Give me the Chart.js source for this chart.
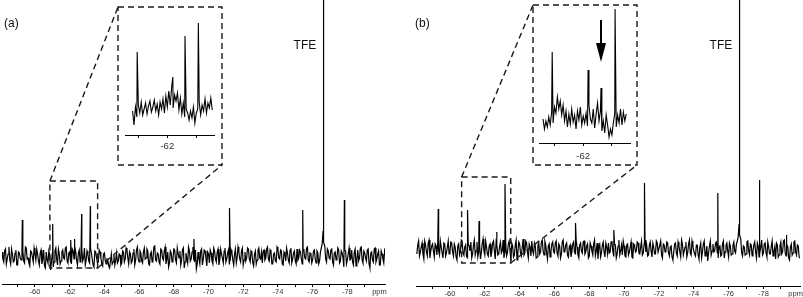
<!DOCTYPE html>
<html><head><meta charset="utf-8">
<script src="https://cdn.jsdelivr.net/npm/chart.js@4.4.1/dist/chart.umd.min.js"></script>
<style>
html,body{margin:0;padding:0;background:#fff;}
body{width:803px;height:297px;position:relative;overflow:hidden;}
canvas{position:absolute;}
</style></head><body>
<canvas id="mainA" width="400" height="297" style="left:0;top:0"></canvas>
<canvas id="mainB" width="403" height="297" style="left:400px;top:0"></canvas>
<canvas id="insetA" width="100" height="155" style="left:120px;top:8px"></canvas>
<canvas id="insetB" width="100" height="156" style="left:535px;top:7px"></canvas>
<script>
// ---------- DATA ----------
const mainTickValues = [-59,-60,-61,-62,-63,-64,-65,-66,-67,-68,-69,-70,-71,-72,-73,-74,-75,-76,-77,-78,-79];
const mainTickLabels = ['','-60','','-62','','-64','','-66','','-68','','-70','','-72','','-74','','-76','','-78',''];
const insetTickValues = [-61,-62,-63];
const insetTickLabels = ['','-62',''];

// panel (a) spectrum: samples every 0.1 ppm from -58.1, plus the in-between samples
const noiseA_start = -58.1, noiseA_step = -0.1;
const noiseA = [
 4,-6,7,-3,9,-8,2,-5,6,-9,
 3,-4,5,-7,8,-2,-10,4,-6,2,
 7,-5,3,-8,6,-12,-4,5,-14,3,
 -6,8,-9,2,-5,6,-3,9,-7,4,
 -8,5,10,-4,3,-6,7,-2,-9,5,
 -5,8,-3,-11,4,-7,6,-2,-10,3,
 -8,-4,-12,2,-6,-9,3,-5,1,-7,
 4,-3,6,-8,2,-5,7,-4,9,-6,
 3,-7,8,-2,5,-9,4,-3,10,-5,
 2,-8,6,-4,9,-3,-11,5,-6,7,
 -4,8,-2,-9,6,-12,3,-7,5,-3,
 9,-6,-13,4,-8,7,-3,5,-10,2,
 6,-5,8,-3,4,-9,7,-2,5,-6,
 3,-8,6,-4,2,-7,9,-3,5,-9,
 4,-2,7,-6,3,-10,5,-4,8,-3,
 -7,6,-2,9,-5,4,-8,3,-6,7,
 -3,5,-9,2,8,-4,6,-7,3,-5,
 7,-2,4,-8,5,-3,9,-6,2,-4,
 6,-7,3,-5,8,25,10,-6,5,-3,
 7,-9,4,-2,6,-5,3,-11,5,-4,
 8,-3,-6,4,-10,6,-2,9,-7,3,
 -5,7,-12,4,-6,8,-3,5,-9,2,-7,4];
const noiseA_mid = [
 -3,5,-8,2,-4,7,-6,3,-9,4,
 -2,6,-5,9,-3,-7,5,-1,8,-4,
 2,-9,6,-3,-10,4,-7,1,-6,-11,
 5,-3,7,-8,4,-2,8,-5,3,-6,
 7,-3,4,-9,6,-1,-5,8,-4,2,
 -7,3,-9,5,-2,-6,4,-8,2,-5,
 -3,-10,-5,-8,1,-4,-7,2,-9,5,
 -6,8,-2,4,-7,3,-9,6,-3,5,
 -5,4,-3,7,-8,2,-6,9,-4,3,
 -6,7,-2,5,-8,4,-7,3,-4,6,
 -7,2,5,-4,8,-6,-2,9,-5,4,
 -4,6,-8,-3,5,-9,6,-2,4,-7,
 3,-8,5,-6,7,-4,2,-7,8,-3,
 6,-5,3,-9,7,-2,4,-6,8,-4,
 -5,8,-3,5,-7,2,-8,6,-2,4,
 5,-4,7,-3,6,-8,2,-5,9,-2,
 6,-8,4,-5,3,-7,8,-3,5,-8,
 -4,6,-3,7,-2,8,-4,3,-7,5,
 -3,5,-8,4,12,14,-3,7,-2,6,
 -6,3,-4,8,-7,5,-2,6,-8,2,
 -4,6,-9,7,-3,-5,8,-4,5,-2,
 6,-8,3,-4,7,-6,2,-9,5,-3,6];
const peaksA_ppm = [-59.27,-61.02,-62.06,-62.27,-62.69,-63.19,-69.16,-71.21,-75.43,-76.61,-77.83];
const peaksA_int = [36,32,16,17,42,50,17,48,46,1000,56];

// panel (b) spectrum
const noiseB_start = -58.1, noiseB_step = -0.1;
const noiseB = [
 -5,8,-3,6,-10,4,-7,9,-2,5,
 -8,3,7,-6,2,-9,5,-4,8,-3,
 6,-7,2,-11,5,-3,8,-6,4,-9,
 3,7,-5,9,-2,-8,6,-4,10,-6,
 2,-7,5,-3,8,-10,4,-5,7,-2,
 -9,6,-4,8,-12,3,-6,9,-3,5,
 -7,10,-4,6,-9,2,8,-5,3,-8,
 6,-3,9,-6,4,-10,5,-2,7,-4,
 8,-7,3,-5,9,-2,6,-8,4,-3,
 7,-5,2,-9,6,-4,8,-3,5,-7,
 3,-6,9,-2,-10,5,-4,7,-8,2,
 6,-3,8,-7,4,-5,9,-2,-6,3,
 -8,5,-3,7,-9,4,-2,6,-5,8,
 -4,9,3,-6,7,-8,2,-5,6,-3,
 8,-9,4,-2,6,-7,3,-11,5,-4,
 7,-3,9,-6,2,-8,5,-4,8,-2,
 -7,4,-10,6,-3,8,-5,-12,3,-6,
 5,-2,7,-9,4,-6,8,-3,6,-8,
 3,-5,7,-4,8,25,10,-7,2,-5,
 8,-6,4,-2,7,-9,3,-5,9,-4,
 6,-8,2,-5,8,-3,-10,4,-6,7,
 -3,9,-7,2,-11,5,-4,8,-6,3,-9,5];
const noiseB_mid = [
 4,-7,2,-5,8,-3,6,-9,3,-2,
 5,-6,-2,8,-4,6,-7,2,-5,7,
 -3,5,-8,3,-6,9,-4,2,-7,5,
 -2,-9,4,-6,7,-3,-10,5,-2,8,
 -5,3,-8,6,-2,7,-6,3,-4,9,
 -3,-7,5,-2,6,-8,4,-11,7,-4,
 2,-6,8,-3,5,-7,-2,6,-9,4,
 -5,7,-2,8,-4,3,-8,5,-3,6,
 -4,5,-9,7,-3,4,-6,2,-8,5,
 -3,8,-6,4,-2,7,-5,3,-9,6,
 -2,5,-7,6,3,-8,4,-3,6,-5,
 -4,7,-2,5,-9,3,-6,4,8,-7,
 4,-6,2,-8,5,-3,7,-4,2,-6,
 5,-3,-7,4,-2,6,-5,8,-3,4,
 -6,5,-3,7,-4,2,-8,-3,6,-7,
 3,-8,5,-2,7,-4,9,-6,3,-5,
 4,-6,2,-9,5,-7,3,-4,8,-2,
 -3,6,-4,2,-7,5,-9,4,-2,6,
 -6,4,-2,5,12,14,-4,3,-6,7,
 -2,5,-7,4,-3,6,-8,2,-6,5,
 -4,7,-5,3,-7,2,6,-8,3,-5,
 8,-4,5,-9,2,-6,7,-3,4,-8,6];
const peaksB_ppm = [-59.33,-61.01,-61.67,-62.68,-63.16,-67.21,-69.41,-71.17,-75.38,-76.61,-77.76,-79.31];
const peaksB_int = [40,39,28,17,65,26,19,66,56,1000,69,14];

// inset (a): every 0.05 ppm from -60.80
const insetA_start = -60.8, insetA_step = -0.05;
const insetA_noise = [
 -6,-20,-2,-12,0,-8,3,-10,-4,2,
 -9,-1,4,-7,-2,5,-6,1,-10,3,
 -4,6,-8,9,-2,14,0,18,-3,10,
 4,12,-5,7,-9,2,-12,-4,-8,-15,
 -6,-13,-2,-18,-8,-4,3,-10,0,-6,
 6,-8,2,-3,7,-5];
const insetA_peaks_ppm = [-60.96,-62.19,-62.61,-63.07];
const insetA_peaks_int = [53,28,69,82];

// inset (b): every 0.05 ppm from -60.60
const insetB_start = -60.6, insetB_step = -0.05;
const insetB_noise = [
 -2,-12,-4,-10,0,-8,5,-6,10,4,
 20,8,16,2,12,-4,6,-10,3,-7,
 8,-5,2,-12,6,-3,10,-8,1,-6,
 4,-9,12,-2,-6,8,-11,3,14,-4,
 6,-14,-4,-16,2,-8,-20,-12,-18,-6,
 4,-10,2,-6,8,-8,5,-4,3];
const insetB_peaks_ppm = [-60.92,-62.17,-62.62,-63.11];
const insetB_peaks_int = [65,47,29,108];

// zoom boxes on the main spectra (ppm range, intensity range)
const boxA_ppm = [-60.86,-63.61], boxA_int = [75,-12];
const boxB_ppm = [-60.67,-63.49], boxB_int = [72,-14];
const tfePpm = -76.61;
const arrowB = {ppm:-62.62, tail:97, headBase:74, tip:55};

// ---------- LAYOUT ----------
const insetRectA = [118,7,222,165];
const insetRectB = [533,5,637,165];

function buildSeries(start, step, noise, mid, pk, pi){
  const pts = noise.map((v,i)=>({x:+(start+i*step).toFixed(3), y:v}));
  (mid||[]).forEach((v,i)=>pts.push({x:+(start+(i+0.5)*step).toFixed(3), y:v}));
  pk.forEach((p,i)=>pts.push({x:p, y:pi[i]}));
  pts.sort((a,b)=>b.x-a.x);
  return pts;
}

const tickFont = {family:'"Liberation Sans", Arial, sans-serif', size:7.5};
const insetFont = {family:'"Liberation Sans", Arial, sans-serif', size:9.5};
function xScale(min,max,vals,labels,height,pad,font){
  return {
    type:'linear', min:min, max:max, reverse:true,
    afterBuildTicks(s){ s.ticks = vals.map(v=>({value:v})); },
    afterFit(s){ s.height = height; },
    ticks:{ autoSkip:false, maxRotation:0, padding:pad, font:font, color:'#333',
      callback:(v)=>{ const k = vals.indexOf(v); return k>=0 ? labels[k] : ''; } },
    grid:{ display:true, drawOnChartArea:false, drawTicks:true, tickLength:3, color:'#000', lineWidth:1 },
    border:{ display:true, color:'#000', width:1 }
  };
}
function baseOpts(xs, ymin, ymax, pad){
  return {
    responsive:false, animation:false, devicePixelRatio:1,
    layout:{ padding:pad },
    plugins:{ legend:{display:false}, tooltip:{enabled:false} },
    elements:{ point:{radius:0}, line:{tension:0} },
    scales:{ x:xs, y:{ display:false, min:ymin, max:ymax } }
  };
}
function dataset(pts, w){
  return { datasets:[{ data:pts, borderColor:'#000', borderWidth:w, fill:false, pointRadius:0 }] };
}

function decor(offsetX, box_ppm, box_int, rect, label, labelX){
  return {
    id:'decor'+label,
    afterDraw(chart){
      const ctx = chart.ctx, xs = chart.scales.x, ys = chart.scales.y;
      ctx.save();
      ctx.strokeStyle = '#1a1a1a'; ctx.lineWidth = 1.4; ctx.setLineDash([6,4]);
      const bx1 = xs.getPixelForValue(box_ppm[0]), bx2 = xs.getPixelForValue(box_ppm[1]);
      const by1 = ys.getPixelForValue(box_int[0]), by2 = ys.getPixelForValue(box_int[1]);
      ctx.strokeRect(bx1, by1, bx2-bx1, by2-by1);
      const r = [rect[0]-offsetX, rect[1], rect[2]-offsetX, rect[3]];
      ctx.strokeRect(r[0], r[1], r[2]-r[0], r[3]-r[1]);
      ctx.beginPath();
      ctx.moveTo(bx1, by1); ctx.lineTo(r[0], r[1]);
      ctx.moveTo(bx2, by2); ctx.lineTo(r[2], r[3]);
      ctx.stroke();
      ctx.setLineDash([]);
      ctx.fillStyle = '#111';
      ctx.font = '12px "Liberation Sans", Arial, sans-serif';
      ctx.textBaseline = 'middle'; ctx.textAlign = 'left';
      ctx.fillText(label, labelX-offsetX, 24);
      ctx.textAlign = 'right';
      ctx.font = '12px "Liberation Sans Narrow", "Liberation Sans", Arial, sans-serif';
      ctx.fillText('TFE', xs.getPixelForValue(tfePpm)-7, 46);
      ctx.font = tickFont.size+'px '+tickFont.family;
      ctx.fillStyle = '#333'; ctx.textAlign = 'center';
      ctx.fillText('ppm', xs.getPixelForValue(-79.85), ys.bottom+8);
      ctx.restore();
    }
  };
}

const arrowPlugin = {
  id:'arrow',
  afterDraw(chart){
    const ctx = chart.ctx, xs = chart.scales.x, ys = chart.scales.y;
    const x = xs.getPixelForValue(arrowB.ppm);
    ctx.save();
    ctx.fillStyle = '#000'; ctx.strokeStyle = '#000'; ctx.lineWidth = 2;
    ctx.beginPath(); ctx.moveTo(x, ys.getPixelForValue(arrowB.tail)); ctx.lineTo(x, ys.getPixelForValue(arrowB.headBase)+1); ctx.stroke();
    ctx.beginPath();
    ctx.moveTo(x-5, ys.getPixelForValue(arrowB.headBase));
    ctx.lineTo(x+5, ys.getPixelForValue(arrowB.headBase));
    ctx.lineTo(x, ys.getPixelForValue(arrowB.tip));
    ctx.closePath(); ctx.fill();
    ctx.restore();
  }
};

new Chart(document.getElementById('mainA'), {
  type:'line',
  data:dataset(buildSeries(noiseA_start, noiseA_step, noiseA, noiseA_mid, peaksA_ppm, peaksA_int), 1.2),
  options:baseOpts(xScale(-80.17,-58.1,mainTickValues,mainTickLabels,13,0,tickFont), -28, 256, {left:2,right:15,top:0,bottom:0}),
  plugins:[decor(0, boxA_ppm, boxA_int, insetRectA, '(a)', 4)]
});
new Chart(document.getElementById('mainB'), {
  type:'line',
  data:dataset(buildSeries(noiseB_start, noiseB_step, noiseB, noiseB_mid, peaksB_ppm, peaksB_int), 1.2),
  options:baseOpts(xScale(-80.1,-58.05,mainTickValues,mainTickLabels,11,0,tickFont), -37, 249, {left:16,right:3,top:0,bottom:0}),
  plugins:[decor(400, boxB_ppm, boxB_int, insetRectB, '(b)', 415)]
});
new Chart(document.getElementById('insetA'), {
  type:'line',
  data:dataset(buildSeries(insetA_start, insetA_step, insetA_noise, null, insetA_peaks_ppm, insetA_peaks_int), 1.1),
  options:baseOpts(xScale(-63.61,-60.54,insetTickValues,insetTickLabels,28,3,insetFont), -30, 95, {left:5,right:6,top:2,bottom:0})
});
new Chart(document.getElementById('insetB'), {
  type:'line',
  data:dataset(buildSeries(insetB_start, insetB_step, insetB_noise, null, insetB_peaks_ppm, insetB_peaks_int), 1.1),
  options:baseOpts(xScale(-63.63,-60.46,insetTickValues,insetTickLabels,20,5,insetFont), -26, 109, {left:4,right:5,top:1,bottom:0}),
  plugins:[arrowPlugin]
});
</script>
</body></html>
